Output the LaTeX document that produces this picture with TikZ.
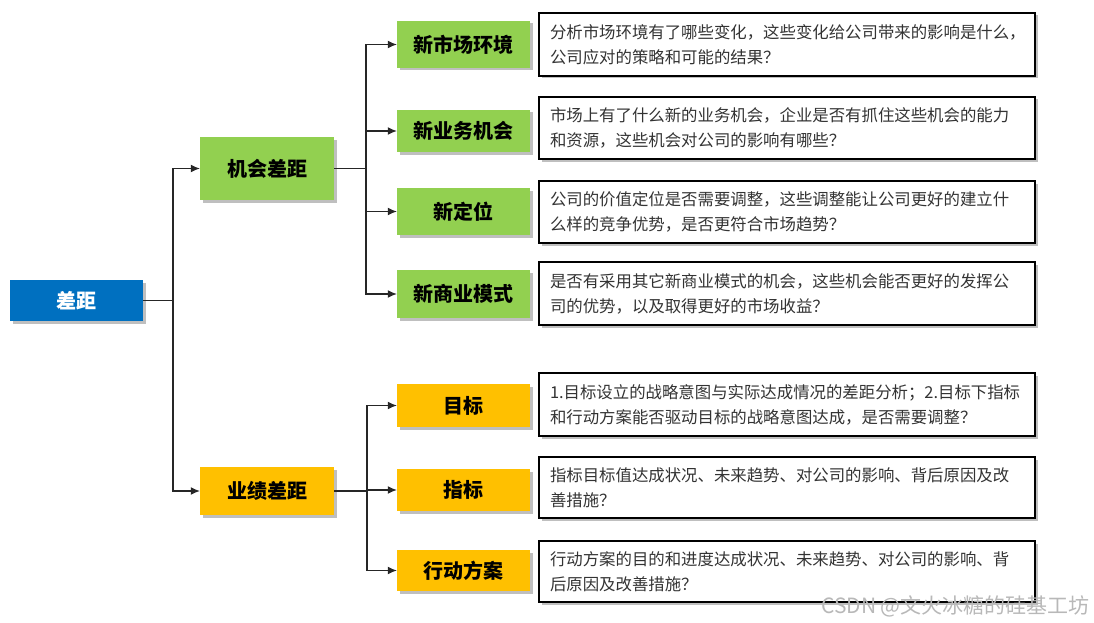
\documentclass[tikz,border=0pt]{standalone}
\usepackage{fontspec}
\setmainfont{Noto Sans CJK SC}
\usetikzlibrary{shadows,arrows.meta}
\definecolor{rootblue}{HTML}{0070C0}
\definecolor{oppgreen}{HTML}{92D050}
\definecolor{perfyellow}{HTML}{FFC000}
\definecolor{desctext}{HTML}{333333}
\tikzset{
  boxshadow/.style={drop shadow={shadow xshift=2.5pt,shadow yshift=-2.5pt,fill=black,opacity=0.25}},
  labelbox/.style={rectangle,minimum width=133pt,inner sep=0pt,boxshadow,
    font=\fontsize{20}{22}\selectfont\bfseries},
  rootbox/.style={labelbox,fill=rootblue,text=white},
  greenbox/.style={labelbox,fill=oppgreen,text=black},
  yellowbox/.style={labelbox,fill=perfyellow,text=black},
  descbox/.style={rectangle,draw=black,line width=1.8pt,fill=white,boxshadow,
    minimum width=496pt,text width=474pt,inner xsep=11pt,inner ysep=0pt,align=left,
    text=desctext,font=\fontsize{16.4}{25}\selectfont},
  conn/.style={line width=1.2pt,draw=black!85},
  arr/.style={conn,-{Latex[length=9pt,width=8pt]}}
}
\begin{document}
\begin{tikzpicture}[x=1pt,y=-1pt]
\useasboundingbox (0,0) rectangle (1094,623);
% level 0
\node[rootbox,minimum width=133pt,minimum height=41pt] (root) at (76.5,300.5) {差距};
% level 1
\node[greenbox,minimum width=134pt,minimum height=63pt] (jh) at (267,168.5) {机会差距};
\node[yellowbox,minimum width=134pt,minimum height=48pt] (yj) at (267,491) {业绩差距};
% level 2 green
\node[greenbox,minimum height=47pt] (g1) at (463.5,44.5) {新市场环境};
\node[greenbox,minimum height=42pt] (g2) at (463.5,131) {新业务机会};
\node[greenbox,minimum height=47pt] (g3) at (463.5,211.5) {新定位};
\node[greenbox,minimum height=48pt] (g4) at (463.5,294) {新商业模式};
% level 2 yellow
\node[yellowbox,minimum height=43pt] (y1) at (463.5,405.5) {目标};
\node[yellowbox,minimum height=42pt] (y2) at (463.5,490) {指标};
\node[yellowbox,minimum height=41pt] (y3) at (463.5,570.5) {行动方案};
% descriptions
\node[descbox,minimum height=63pt] (t1) at (787,44.5) {分析市场环境有了哪些变化，这些变化给公司带来的影响是什么，\\公司应对的策略和可能的结果？};
\node[descbox,minimum height=62pt] (t2) at (787,128) {市场上有了什么新的业务机会，企业是否有抓住这些机会的能力\\和资源，这些机会对公司的影响有哪些？};
\node[descbox,minimum height=62pt] (t3) at (787,212) {公司的价值定位是否需要调整，这些调整能让公司更好的建立什\\么样的竞争优势，是否更符合市场趋势？};
\node[descbox,minimum height=63pt] (t4) at (787,293.5) {是否有采用其它新商业模式的机会，这些机会能否更好的发挥公\\司的优势，以及取得更好的市场收益？};
\node[descbox,minimum height=63pt] (t5) at (787,404.5) {1.目标设立的战略意图与实际达成情况的差距分析；2.目标下指标\\和行动方案能否驱动目标的战略意图达成，是否需要调整？};
\node[descbox,minimum height=61pt] (t6) at (787,487.5) {指标目标值达成状况、未来趋势、对公司的影响、背后原因及改\\善措施？};
\node[descbox,minimum height=61pt] (t7) at (787,571.5) {行动方案的目的和进度达成状况、未来趋势、对公司的影响、背\\后原因及改善措施？};
% connectors
\coordinate (trunk) at (173,300.5);
\coordinate (gb) at (366,168.5);
\coordinate (yb) at (367,491);
\draw[conn] (root.east) -- (trunk);
\draw[arr] (trunk) |- (jh.west);
\draw[arr] (trunk) |- (yj.west);
\draw[conn] (jh.east) -- (gb);
\draw[arr] (gb) |- (g1.west);
\draw[arr] (gb) |- (g2.west);
\draw[arr] (gb) |- (g3.west);
\draw[arr] (gb) |- (g4.west);
\draw[conn] (yj.east) -- (yb);
\draw[arr] (yb) |- (y1.west);
\draw[arr] (yb) |- (y2.west);
\draw[arr] (yb) |- (y3.west);
% watermark
\node[anchor=east,text=black!28,font=\fontsize{21}{22}\selectfont,inner sep=0pt] (wm) at (1090,606) {CSDN @文火冰糖的硅基工坊};
\end{tikzpicture}
\end{document}
